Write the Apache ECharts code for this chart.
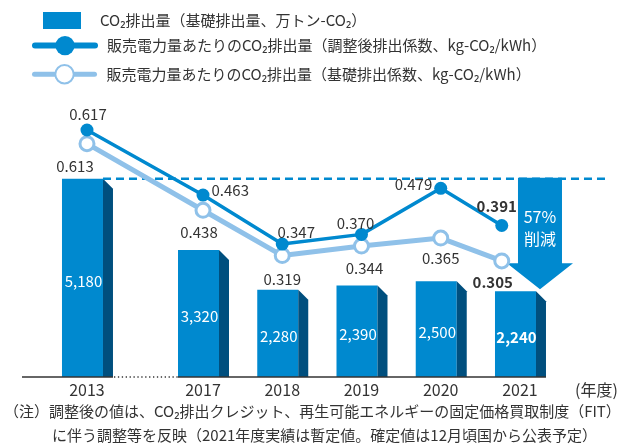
<!DOCTYPE html>
<html><head><meta charset="utf-8">
<script src="https://cdn.jsdelivr.net/npm/echarts@6/dist/echarts.min.js"></script>
<style>html,body{margin:0;padding:0;background:#fff}#c{width:622px;height:445px}</style>
</head><body><div id="c"></div>
<script>
// ---- data ----
const years = [2013, 2017, 2018, 2019, 2020, 2021];
const emissions = [5180, 3320, 2280, 2390, 2500, 2240];            // 万トン-CO2
const adjustedFactor = [0.617, 0.463, 0.347, 0.370, 0.479, 0.391]; // 調整後排出係数
const basicFactor = [0.613, 0.438, 0.319, 0.344, 0.365, 0.305];    // 基礎排出係数
const barName = 'CO₂排出量（基礎排出量、万トン-CO₂）';
const adjName = '販売電力量あたりのCO₂排出量（調整後排出係数、kg-CO₂/kWh）';
const basicName = '販売電力量あたりのCO₂排出量（基礎排出係数、kg-CO₂/kWh）';
const note1 = '（注）調整後の値は、CO₂排出クレジット、再生可能エネルギーの固定価格買取制度（FIT）';
const note2 = 'に伴う調整等を反映（2021年度実績は暫定値。確定値は12月頃国から公表予定）';
const unitLabel = '(年度)';
const reduceWord = '削減';

// ---- styles ----
const FONT = '"Noto Sans CJK JP", "Noto Sans", sans-serif';
const TXT = '#333333';
const BLUE = '#0089cf';
const SIDE = '#004f7e';
const LIGHT = '#8fc1e9';
const last = years.length - 1;
const LINE_END_SHIFT = 0.23; // last line points pulled left to clear the arrow

// label placements (styling only)
const adjLabelPos = [
  {position: 'top', offset: [1, 0]},
  {position: 'right', offset: [0, -5]},
  {position: 'top', offset: [14, 4]},
  {position: 'top', offset: [-6, 5]},
  {position: 'left', offset: [0, -4]},
  {position: 'top', offset: [-5, -3]}
];
const basicLabelPos = [
  {position: 'bottom', offset: [-12, 5]},
  {position: 'bottom', offset: [-4, 4]},
  {position: 'bottom', offset: [0, 6]},
  {position: 'bottom', offset: [3, 4]},
  {position: 'bottom', offset: [0, 2]},
  {position: 'bottom', offset: [-9, 3]}
];

const fmtInt = v => v.toLocaleString('en-US');
const lineData = (vals, pos) => years.map((y, i) => ({
  value: [i === last ? y - LINE_END_SHIFT : y, vals[i]],
  label: Object.assign({}, pos[i], {fontWeight: i === last ? 'bold' : 'normal'})
}));

const chart = echarts.init(document.getElementById('c'), null, {renderer: 'canvas'});
chart.setOption({
  animation: false,
  textStyle: {fontFamily: FONT},
  grid: {left: 22, right: 57, top: 100, bottom: 68},
  xAxis: {
    type: 'value', min: 2012.18, max: 2021.568,
    breaks: [{start: 2013.5, end: 2016.5, gap: 0.464}],
    breakArea: {show: false},
    axisLine: {show: false}, axisTick: {show: false}, splitLine: {show: false},
    axisLabel: {customValues: years, formatter: v => String(Math.round(v)), color: TXT, fontSize: 16, margin: 5, fontFamily: FONT},
    name: unitLabel, nameLocation: 'end', nameGap: 10,
    nameTextStyle: {fontSize: 16, color: TXT, align: 'left', verticalAlign: 'top', padding: [5, 0, 0, 0], fontFamily: FONT}
  },
  yAxis: [
    {type: 'value', min: 0, max: 7236, show: false},
    {type: 'value', min: 0, max: 0.7277, show: false},
    {type: 'value', min: 0.0325, max: 0.688, show: false}
  ],
  legend: [
    {data: [{name: barName, icon: 'rect', itemStyle: {color: BLUE}}], left: 38, top: 7, itemWidth: 38, itemHeight: 17,
     selectedMode: false, textStyle: {fontSize: 15, color: TXT, padding: [0, 0, 0, 14], fontFamily: FONT}},
    {data: [adjName], left: 27, top: 31, itemWidth: 60, itemHeight: 24, selectedMode: false,
     lineStyle: {width: 6, cap: 'round'},
     textStyle: {fontSize: 15, color: TXT, padding: [0, 0, 0, 7], fontFamily: FONT}},
    {data: [basicName], left: 27, top: 59, itemWidth: 60, itemHeight: 23, selectedMode: false,
     lineStyle: {width: 5, cap: 'round'},
     textStyle: {fontSize: 15, color: TXT, padding: [0, 0, 0, 7], fontFamily: FONT}}
  ],
  graphic: [
    {type: 'text', left: 4, top: 404, style: {text: note1, font: '15px ' + FONT, fill: TXT}},
    {type: 'text', left: 52, top: 428, style: {text: note2, font: '15px ' + FONT, fill: TXT}}
  ],
  series: [
    {
      name: barName, type: 'custom', xAxisIndex: 0, yAxisIndex: 0, z: 2,
      itemStyle: {color: BLUE},
      encode: {x: 0, y: 1},
      data: years.map((y, i) => [y, emissions[i]]),
      renderItem: (params, api) => {
        const x = api.value(0), v = api.value(1);
        const top = api.coord([x, v]);
        const base = api.coord([x, 0]);
        const cx = top[0];
        const fl = cx - 25, fr = cx + 16, sr = cx + 26;
        const bold = params.dataIndex === last;
        return {type: 'group', children: [
          {type: 'rect', shape: {x: fl, y: top[1], width: fr - fl, height: base[1] - top[1]}, style: {fill: BLUE}},
          {type: 'polygon', shape: {points: [[fr, top[1]], [sr, top[1] + 10], [sr, base[1]], [fr, base[1]]]}, style: {fill: SIDE}},
          {type: 'text', x: (fl + fr) / 2 + 1, y: (top[1] + base[1]) / 2 + 3,
           style: {text: fmtInt(v), fill: '#fff', font: (bold ? 'bold ' : '') + '15px ' + FONT, align: 'center', verticalAlign: 'middle'}}
        ]};
      }
    },
    {
      name: 'decor', type: 'custom', xAxisIndex: 0, yAxisIndex: 0, z: 3, silent: true,
      encode: {x: [0, 1, 2], y: [3, 4]},
      data: [[years[0], years[1], years[last], emissions[0], emissions[last]]],
      renderItem: (params, api) => {
        const cs = params.coordSys;
        const p13 = api.coord([api.value(0), api.value(3)]);
        const b13 = api.coord([api.value(0), 0]);
        const b17 = api.coord([api.value(1), 0]);
        const p21 = api.coord([api.value(2), api.value(4)]);
        const baseY = b13[1];
        const topY = p13[1];
        const ax = p21[0] + 20;
        const tip = p21[1] - 2;
        const headTop = tip - 26;
        const pct = Math.round((1 - api.value(4) / api.value(3)) * 100) + '%';
        return {type: 'group', children: [
          {type: 'line', shape: {x1: cs.x, y1: baseY, x2: b13[0] + 26, y2: baseY}, style: {stroke: TXT, lineWidth: 1.3}},
          {type: 'line', shape: {x1: b13[0] + 27, y1: baseY, x2: b17[0] - 25, y2: baseY}, style: {stroke: TXT, lineWidth: 1.3, lineDash: [1.3, 2.6]}},
          {type: 'line', shape: {x1: b17[0] - 25, y1: baseY, x2: p21[0] + 26, y2: baseY}, style: {stroke: TXT, lineWidth: 1.3}},
          {type: 'line', shape: {x1: p13[0] + 16, y1: topY, x2: p21[0] + 85, y2: topY}, style: {stroke: BLUE, lineWidth: 2.5, lineDash: [8, 5]}},
          {type: 'polygon', z2: 10, shape: {points: [[ax - 22, topY - 1], [ax + 22, topY - 1], [ax + 22, headTop], [ax + 33, headTop], [ax, tip], [ax - 33, headTop], [ax - 22, headTop]]}, style: {fill: BLUE}},
          {type: 'text', z2: 11, x: ax, y: topY + 38, style: {text: pct, fill: '#fff', font: '16px ' + FONT, align: 'center', verticalAlign: 'middle'}},
          {type: 'text', z2: 11, x: ax, y: topY + 60, style: {text: reduceWord, fill: '#fff', font: '16px ' + FONT, align: 'center', verticalAlign: 'middle'}}
        ]};
      }
    },
    {
      name: basicName, type: 'line', xAxisIndex: 0, yAxisIndex: 1, z: 5,
      data: lineData(basicFactor, basicLabelPos),
      symbol: 'circle', symbolSize: 14,
      lineStyle: {color: LIGHT, width: 5},
      itemStyle: {color: '#fff', borderColor: LIGHT, borderWidth: 3},
      label: {show: true, distance: 2, color: TXT, fontSize: 15, fontFamily: FONT, formatter: p => p.value[1].toFixed(3)}
    },
    {
      name: adjName, type: 'line', xAxisIndex: 0, yAxisIndex: 2, z: 6,
      data: lineData(adjustedFactor, adjLabelPos),
      symbol: 'circle', symbolSize: 13,
      lineStyle: {color: BLUE, width: 3.5},
      itemStyle: {color: BLUE},
      label: {show: true, distance: 2, color: TXT, fontSize: 15, fontFamily: FONT, formatter: p => p.value[1].toFixed(3)}
    }
  ]
});
</script></body></html>
